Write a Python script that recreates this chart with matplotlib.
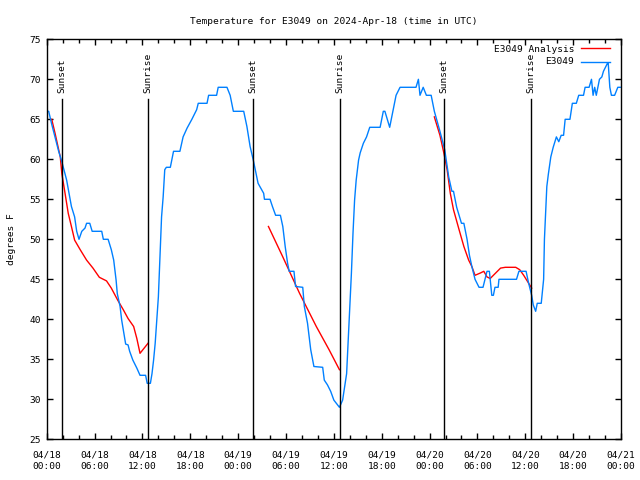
import matplotlib
matplotlib.use("Agg")
import matplotlib.pyplot as plt
import numpy as np
from matplotlib.lines import Line2D
from matplotlib.ticker import MultipleLocator

plt.rcParams['font.family'] = ['DejaVu Sans Mono']
FS = 6.8

# hours since 2024-04-18 00:00 UTC
blue_h = [0.0, 0.25, 0.6, 1.5, 1.9, 2.5, 3.1, 3.5, 3.76, 4.05, 4.4, 4.8, 5.0, 5.4, 5.7, 6.9, 7.1, 7.7,
          8.1, 8.4, 8.7, 8.85, 9.2, 9.4, 9.6, 9.9, 10.2, 10.4, 10.8, 11.3, 11.7, 12.4, 12.6, 13.0,
          13.2, 13.4, 13.6, 13.8, 14.0, 14.2, 14.4, 14.6, 14.8, 15.0, 15.5, 15.9, 16.7, 17.1, 17.6,
          18.2, 18.8, 19.0, 20.1, 20.3, 21.3, 21.5, 22.6, 23.0, 23.4, 24.7, 25.1, 25.5, 25.9, 26.5,
          27.2, 27.3, 28.0, 28.3, 28.7, 29.3, 29.6, 29.9, 30.2, 30.4, 31.0, 31.2, 32.1, 32.3, 32.7,
          33.1, 33.5, 34.6, 34.8, 35.2, 35.6, 36.0, 36.7, 37.1, 37.6, 37.8, 38.0, 38.2, 38.4, 38.6,
          38.8, 39.1, 39.3, 39.7, 40.1, 40.5, 41.8, 42.2, 42.4, 43.0, 43.4, 43.8, 44.3, 46.3, 46.6,
          46.8, 47.2, 47.6, 48.2, 48.6, 49.3, 49.9, 50.4, 50.8, 51.0, 51.4, 52.0, 52.3, 52.7, 53.0,
          53.3, 53.7, 54.2, 54.7, 55.2, 55.5, 55.8, 56.0, 56.2, 56.6, 56.7, 58.9, 59.2, 60.1, 60.4,
          60.8, 61.0, 61.3, 61.5, 62.0, 62.3, 62.4, 62.7, 62.9, 63.2, 63.5, 63.9, 64.2, 64.5, 64.8,
          65.0, 65.6, 65.9, 66.4, 66.7, 67.3, 67.5, 68.0, 68.3, 68.5, 68.7, 68.9, 69.3, 69.6, 69.8,
          70.3, 70.4, 70.6, 70.8, 71.2, 71.6, 71.9]
blue_t = [66, 66, 64.5, 61, 59.7, 57.4, 54.1, 52.8, 51, 50, 51, 51.4, 52, 52, 51, 51, 50, 50,
          48.7, 47.4, 44.9, 43.2, 41.6, 39.9, 38.7, 36.9, 36.8, 36, 34.9, 33.9, 33, 33, 32, 32,
          33.2, 34.9, 37, 39.9, 42.8, 47.8, 52.8, 55.3, 58.7, 59, 59, 61, 61, 62.8, 63.9,
          65, 66.2, 67, 67, 68, 68, 69, 69, 68, 66, 66, 64.1, 61.6, 59.9, 57,
          55.75, 55, 55, 54.1, 53, 53, 51.6, 49.1, 47, 46, 46, 44.1, 44, 41.6, 39.5,
          36.2, 34.1, 34, 32.4, 31.8, 31, 29.9, 29, 29.9, 33.2, 37.4, 41.6, 45.75, 50.75, 54.9,
          57.4, 59.9, 60.8, 62, 62.8, 64, 64, 66, 66, 64, 66, 68, 69, 69, 70,
          68, 69, 68, 68, 66, 63.5, 61.2, 57.8, 56, 56, 54, 52, 52, 50, 48,
          46.6, 45, 44, 44, 46, 46, 43, 43, 44, 44, 45, 45, 46, 46, 44.6,
          43, 41.8, 41, 42, 42, 45, 50, 56.6, 58.2, 60.3, 61.5, 62.8, 62.2, 63, 63,
          65, 65, 67, 67, 68, 68, 69, 69, 70, 68, 69, 68, 70, 70.3, 71,
          72, 72, 69, 68, 68, 69, 69]

red_h = [0.63, 1.06, 1.7, 1.9, 2.3, 2.7, 3.1, 3.5, 4.2, 5.0, 5.8, 6.6, 7.5, 8.1, 8.9, 9.6, 10.2,
         10.9, 11.3, 11.7, 12.7, np.nan,
         27.8, 29.6, 31.7, 33.8, 35.4, 36.7, np.nan,
         48.6, 49.3, 49.8, 50.2, 50.6, 51.0, 51.7, 52.3, 52.9, 53.3, 53.7, 54.4, 54.8, 55.2, 55.6,
         56.3, 56.9, 57.5, 58.8, 59.3, 59.8, 60.3, 60.8]
red_t = [65, 63.2, 60.3, 58.2, 55.75, 53.25, 51.6, 49.9, 48.7, 47.4, 46.4, 45.25, 44.8, 43.9, 42.4,
         41.2, 40.1, 39.1, 37.6, 35.75, 37.0, np.nan,
         51.6, 47.8, 43.25, 39.1, 36.2, 33.7, np.nan,
         65.3, 63, 60.75, 58.7, 55.75, 53.7, 51.2, 49.1, 47.4, 46.6, 45.5, 45.8, 46, 45.3, 45.1,
         45.8, 46.4, 46.5, 46.5, 46.2, 45.5, 44.7, 43.9]

sun_h = [1.88, 12.74, 25.9, 36.77, 49.85, 60.76]
sun_lbl = ["Sunset", "Sunrise", "Sunset", "Sunrise", "Sunset", "Sunrise"]

xtick_h = list(range(0, 73, 6))
xtick_lbl = ["04/18\n00:00", "04/18\n06:00", "04/18\n12:00", "04/18\n18:00",
             "04/19\n00:00", "04/19\n06:00", "04/19\n12:00", "04/19\n18:00",
             "04/20\n00:00", "04/20\n06:00", "04/20\n12:00", "04/20\n18:00",
             "04/21\n00:00"]

fig = plt.figure(figsize=(6.4, 4.8), dpi=100)
ax = fig.add_axes([46.7/640, 1-439.3/480, (621-46.7)/640, 400/480])

blue_c = '#0080ff'
ax.plot(red_h, red_t, color='#ff0000', lw=1.0)
ax.plot(blue_h, blue_t, color=blue_c, lw=1.0)

for h, lab in zip(sun_h, sun_lbl):
    ax.plot([h, h], [25, 67.5], color='black', lw=1.0)
    ax.text(h, 68.3, lab, rotation=90, ha='center', va='bottom', fontsize=FS)

ax.set_xlim(0, 72)
ax.set_ylim(25, 75)
ax.set_xticks(xtick_h)
ax.set_xticklabels(xtick_lbl, fontsize=FS, linespacing=1.3)
ax.xaxis.set_minor_locator(MultipleLocator(2))
ax.set_yticks(range(25, 76, 5))
ax.tick_params(axis='y', labelsize=FS)
ax.tick_params(which='both', direction='in', top=True, right=True, width=1, color='black')
ax.tick_params(which='major', length=4, pad=4)
ax.tick_params(axis='x', which='major', pad=8)
ax.tick_params(which='minor', length=3)
for s in ax.spines.values():
    s.set_linewidth(1.0)
ax.set_ylabel("degrees F", fontsize=FS, labelpad=10)
ax.set_title("Temperature for E3049 on 2024-Apr-18 (time in UTC)", fontsize=FS, pad=11)

# legend (gnuplot style, no box)
fig.text(574/640, 1-49/480, "E3049 Analysis", ha='right', va='center', fontsize=FS)
fig.text(574/640, 1-62/480, "E3049", ha='right', va='center', fontsize=FS)
fig.add_artist(Line2D([581/640, 610/640], [1-48/480, 1-48/480], color='#ff0000', lw=1.0))
fig.add_artist(Line2D([581/640, 610/640], [1-62/480, 1-62/480], color=blue_c, lw=1.0))

fig.savefig("out.png", dpi=100)
